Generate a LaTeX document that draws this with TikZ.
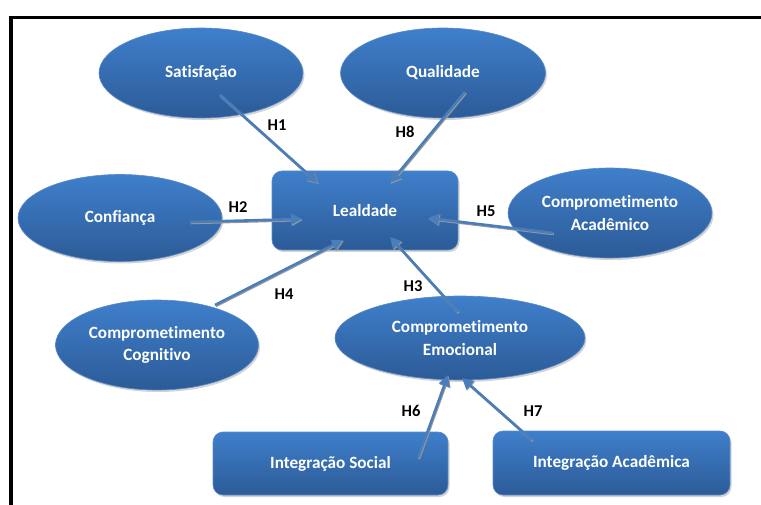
\documentclass[tikz,border=0pt]{standalone}
\usepackage{fontspec}
\setmainfont{Carlito}[Ligatures=NoCommon]
\usetikzlibrary{shapes.geometric, shadows, calc, arrows.meta}

\definecolor{topblue}{HTML}{3F7FCB}
\definecolor{botblue}{HTML}{2C5B97}
\definecolor{edgeblue}{HTML}{5A8ACB}
\definecolor{arrblue}{HTML}{4A7EBB}

\begin{document}
\begin{tikzpicture}[x=1pt,y=-1pt,
    oval/.style={ellipse, top color=topblue, bottom color=botblue, draw=edgeblue, line width=0.6pt,
      minimum width=204pt, minimum height=90pt, inner sep=0pt, align=center,
      text=white, font=\fontsize{17.2}{22.5}\selectfont\bfseries,
      drop shadow={shadow xshift=1.5pt, shadow yshift=-2pt, opacity=0.35}},
    box/.style={rectangle, rounded corners=10pt, top color=topblue, bottom color=botblue, draw=edgeblue, line width=0.6pt,
      inner sep=0pt, align=center, text=white, font=\fontsize{17.2}{22.5}\selectfont\bfseries,
      drop shadow={shadow xshift=1.5pt, shadow yshift=-2pt, opacity=0.35}},
    hyp/.style={font=\fontsize{16.5}{18}\selectfont\bfseries, text=black},
    arr/.style={draw=arrblue, line width=2.6pt, -{Triangle[length=11pt,width=11pt]},
      preaction={draw=black!40, line width=2.6pt, transform canvas={shift={(0.8pt,-1pt)}}}}]
        \useasboundingbox (0,0) rectangle (761,505);
        \draw[line width=3.5pt] (11,505)--(11,17.5)--(761,17.5);

        \node[oval] (sat) at (201,73) {Satisfação};
        \node[oval, minimum width=205pt] (qual) at (443,73) {Qualidade};
        \node[box, minimum width=186pt, minimum height=79pt] (leal) at (365,210.5) {Lealdade};
        \node[oval, minimum height=87pt] (conf) at (120,218) {Confiança};
        \node[oval] (acad) at (610,213) {Comprometimento\\Acadêmico};
        \node[oval, minimum width=203pt] (cogn) at (157,345) {Comprometimento\\Cognitivo};
        \node[oval, minimum width=250pt, minimum height=84pt] (emoc) at (460,338) {Comprometimento\\Emocional};
        \node[box, minimum width=235pt, minimum height=63pt] (social) at (330.5,463.5) {Integração Social};
        \node[box, minimum width=237pt, minimum height=64pt] (iacad) at (611.5,463) {Integração Acadêmica};

        \draw[arr] ($(sat)+(19,22)$) -- ($(leal)+(-47,-27.5)$);
        \draw[arr] ($(qual)+(22,19)$) -- ($(leal)+(25,-27.5)$);
        \draw[arr] ($(conf)+(70,4)$) -- ($(leal)+(-63,8.5)$);
        \draw[arr] ($(acad)+(-57,20)$) -- ($(leal)+(63,7.5)$);
        \draw[arr] ($(cogn)+(58,-40)$) -- ($(leal)+(-22,29.5)$);
        \draw[arr] ($(emoc)+(-2,-26)$) -- ($(leal)+(25,26.5)$);
        \draw[arr] ($(social)+(87.5,-5.5)$) -- ($(emoc)+(-12,37)$);
        \draw[arr] ($(iacad)+(-79.5,-23)$) -- ($(emoc)+(2,40)$);

        \node[hyp] (h1) at (277,125) {H1};
        \node[hyp] (h8) at (405,132) {H8};
        \node[hyp] (h2) at (238,207) {H2};
        \node[hyp] (h5) at (486,211) {H5};
        \node[hyp] (h4) at (284,294) {H4};
        \node[hyp] (h3) at (413,286) {H3};
        \node[hyp] (h6) at (411,411) {H6};
        \node[hyp] (h7) at (533,411) {H7};
      \end{tikzpicture}
\end{document}
